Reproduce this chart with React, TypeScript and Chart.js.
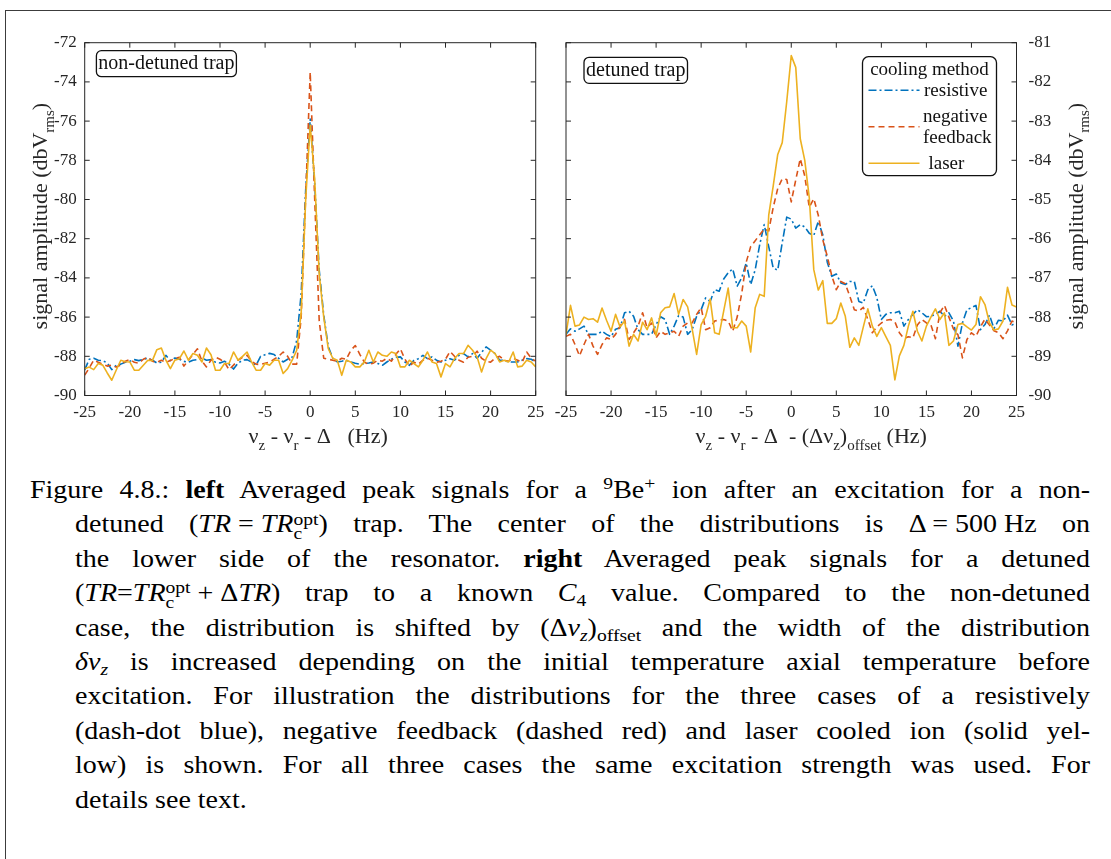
import { useEffect, useRef } from "react";
import { Chart, registerables } from "chart.js";

Chart.register(...registerables);

const SERIF = "'Liberation Serif', 'Times New Roman', serif";
const INK = "#262626";

// sweep grid shared by every trace: -25 Hz .. +25 Hz in 0.5 Hz steps
const FREQ_START = -25;
const FREQ_STEP = 0.5;

const X_MIN = -25;
const X_MAX = 25;
const X_STEP = 5;
const LEFT_Y = { min: -90, max: -72, step: 2 };
const RIGHT_Y = { min: -90, max: -81, step: 1 };

const SERIES_NAMES = ["resistive", "negative feedback", "laser"];
const SERIES_COLORS = ["#0072BD", "#D95319", "#EDB120"];
const SERIES_DASH = [[8, 3, 2, 3], [6, 4], []];

// non-detuned trap (dbVrms)
const LEFT_RESISTIVE = [
  -88.7, -88.15, -88.1, -88.2, -88.22, -88.34, -88.68, -88.45, -88.4, -88.3,
  -88.25, -88.17, -88.22, -88.15, -88.09, -88.2, -88.34, -88.3, -87.95, -88.22,
  -88.09, -88.15, -88.26, -88.3, -88.2, -88.17, -88.09, -88.2, -88.17, -88.3,
  -88.34, -88.25, -88.4, -88.65, -88.35, -88.2, -88.17, -88.3, -88.45, -88.0,
  -87.92, -87.85, -87.91, -88.1, -88.29, -88.15, -88.05, -87.2, -84.8, -79.5,
  -75.9, -79.2, -83.6, -85.9, -87.5, -88.1, -88.29, -88.25, -88.2, -88.29,
  -88.35, -88.4, -88.37, -88.34, -88.29, -88.37, -88.46, -88.29, -88.15, -88.05,
  -88.03, -88.29, -88.46, -88.2, -88.12, -87.95, -88.12, -88.03, -88.2, -88.29,
  -88.2, -88.12, -88.2, -87.95, -87.86, -88.03, -87.86, -88.1, -87.8, -87.52,
  -87.69, -87.86, -88.2, -88.2, -88.29, -88.29, -88.29, -88.2, -88.12, -88.15, -88.29,
];
const LEFT_FEEDBACK = [
  -88.96, -88.6, -88.2, -88.3, -88.4, -88.5, -88.45, -88.55, -88.45, -88.25,
  -88.17, -88.3, -88.35, -88.15, -88.05, -88.25, -88.3, -88.2, -88.3, -88.22,
  -88.1, -88.05, -88.5, -88.2, -87.9, -87.62, -88.25, -88.54, -88.2, -88.05,
  -88.15, -88.3, -88.68, -88.45, -88.2, -88.05, -87.95, -88.26, -88.4, -88.42,
  -88.35, -88.3, -88.15, -88.0, -87.78, -88.0, -88.4, -88.4, -86.0, -79.8,
  -73.5, -80.0, -86.2, -88.1, -88.15, -88.2, -88.25, -88.1, -88.15, -87.7,
  -87.45, -87.9, -88.3, -88.4, -88.35, -88.2, -88.25, -88.1, -88.25, -87.9,
  -87.62, -88.15, -88.5, -88.3, -88.4, -88.2, -88.1, -88.2, -88.3, -88.25,
  -88.15, -87.75, -88.0, -88.2, -88.3, -88.05, -88.0, -87.74, -88.1, -88.25,
  -88.3, -88.1, -88.0, -88.2, -88.25, -88.1, -88.2, -88.3, -87.78, -88.1, -88.25,
];
const LEFT_LASER = [
  -88.63, -88.55, -88.68, -88.37, -88.45, -88.85, -89.22, -88.7, -88.2, -88.28,
  -88.29, -88.71, -88.71, -88.46, -88.2, -88.22, -87.66, -87.58, -88.2, -88.63,
  -88.2, -88.12, -87.73, -88.2, -87.86, -87.95, -88.29, -87.58, -87.92, -88.71,
  -88.71, -88.37, -88.37, -87.78, -88.2, -88.0, -87.78, -88.29, -88.71, -88.71,
  -88.37, -88.45, -88.2, -88.2, -88.88, -88.63, -88.2, -87.7, -85.8, -80.0,
  -76.2, -79.0, -83.8, -86.0, -87.6, -88.1, -88.2, -88.97, -88.2, -88.29,
  -88.54, -88.54, -88.29, -87.69, -88.29, -87.78, -87.95, -88.0, -87.78, -87.86,
  -88.54, -88.54, -88.2, -88.37, -88.54, -88.2, -87.78, -88.29, -88.37, -89.05,
  -88.37, -88.54, -88.12, -87.86, -87.86, -87.44, -87.69, -88.03, -88.8, -88.12,
  -87.69, -87.86, -88.29, -88.2, -88.29, -87.78, -88.54, -88.5, -88.2, -88.29, -88.54,
];

// detuned trap (dbVrms), frequency relative to the offset
const RIGHT_RESISTIVE = [
  -88.44, -88.3, -88.36, -88.3, -88.23, -88.44, -88.44, -88.44, -88.36, -88.44,
  -88.5, -88.31, -88.27, -87.89, -87.85, -87.98, -88.32, -88.44, -88.44, -88.44,
  -88.19, -87.99, -88.06, -88.44, -88.23, -87.96, -88.0, -88.44, -88.32, -87.98,
  -87.81, -87.51, -87.6, -87.3, -87.34, -87.03, -86.87, -86.77, -87.21, -87.0,
  -86.62, -87.17, -86.79, -86.15, -85.64, -86.2, -86.75, -86.8, -86.1, -85.45,
  -85.5, -85.73, -85.64, -85.7, -85.86, -85.92, -85.56, -85.9, -86.6, -86.96,
  -86.9, -87.13, -87.17, -87.09, -87.09, -87.6, -87.64, -87.3, -87.2, -87.5,
  -88.06, -87.93, -87.89, -87.89, -87.85, -88.23, -88.06, -87.93, -87.81, -87.89,
  -87.99, -87.98, -87.93, -87.85, -87.98, -87.89, -88.1, -88.74, -88.15, -87.81,
  -87.76, -87.7, -88.32, -88.19, -87.95, -88.29, -88.08, -88.1, -87.95, -88.2, -88.15,
];
const RIGHT_FEEDBACK = [
  -88.49, -88.44, -88.7, -88.99, -88.7, -88.44, -88.74, -88.95, -88.7, -88.53,
  -88.57, -88.44, -88.23, -88.06, -88.57, -88.4, -88.23, -87.89, -88.27, -88.15,
  -88.53, -88.36, -88.44, -88.4, -88.36, -88.49, -88.23, -88.15, -88.15, -87.93,
  -87.76, -88.32, -88.27, -88.1, -88.08, -88.06, -88.1, -88.36, -88.0, -87.4,
  -86.6, -86.2, -86.05, -85.9, -85.75, -85.8, -85.2, -84.72, -84.47, -84.49,
  -85.06, -84.5, -83.96, -84.4, -85.2, -84.98, -85.4, -86.03, -86.45, -86.95,
  -87.3, -87.09, -87.15, -87.47, -87.81, -87.85, -87.75, -88.06, -88.4, -88.25,
  -88.15, -88.08, -88.06, -88.12, -88.4, -88.55, -88.5, -88.53, -88.2, -88.06,
  -88.15, -88.2, -88.55, -87.89, -87.7, -88.0, -88.3, -88.45, -89.04, -88.57,
  -88.4, -88.49, -88.25, -88.05, -88.2, -88.35, -88.4, -88.55, -88.35, -88.1, -88.15,
];
const RIGHT_LASER = [
  -88.45, -87.7, -88.23, -88.2, -88.0, -88.06, -88.04, -88.13, -87.77, -88.08,
  -88.36, -87.93, -88.25, -88.1, -88.74, -88.44, -88.61, -88.13, -88.32, -88.02,
  -88.47, -87.89, -87.76, -87.74, -87.4, -87.93, -87.55, -87.74, -88.3, -88.95,
  -88.19, -87.98, -87.54, -88.4, -88.44, -87.85, -87.26, -88.27, -88.27, -88.1,
  -88.23, -88.89, -87.76, -87.42, -87.47, -85.4, -84.65, -83.85, -83.55, -82.5,
  -81.33, -81.63, -83.45, -84.0, -84.95, -86.79, -87.31, -87.07, -88.16, -88.16,
  -88.04, -87.64, -87.98, -88.77, -88.53, -88.72, -88.25, -87.79, -88.23, -88.49,
  -88.27, -88.5, -88.72, -89.6, -88.99, -88.72, -88.23, -87.85, -88.36, -88.61,
  -88.23, -88.0, -87.79, -88.06, -87.89, -88.72, -88.61, -88.19, -88.16, -88.25,
  -88.33, -88.19, -87.48, -87.68, -88.15, -88.33, -88.3, -88.1, -87.24, -87.69, -87.74,
];

type Seg = { t: string; sub?: boolean };

const toPoints = (vals: number[]) =>
  vals.map((y, i) => ({ x: FREQ_START + i * FREQ_STEP, y }));

function makeDatasets(series: number[][]) {
  return series.map((vals, i) => ({
    label: SERIES_NAMES[i],
    data: toPoints(vals),
    borderColor: SERIES_COLORS[i],
    backgroundColor: SERIES_COLORS[i],
    borderDash: SERIES_DASH[i],
    borderWidth: 1.6,
    borderJoinStyle: "round" as const,
    pointRadius: 0,
    tension: 0,
    fill: false,
    order: 3 - i,
  }));
}

function drawRich(
  ctx: CanvasRenderingContext2D,
  segs: Seg[],
  x: number,
  y: number,
  size: number,
  align: "left" | "center"
) {
  const main = `${size}px ${SERIF}`;
  const small = `${Math.round(size * 0.68)}px ${SERIF}`;
  let w = 0;
  for (const s of segs) {
    ctx.font = s.sub ? small : main;
    w += ctx.measureText(s.t).width;
  }
  let cx = align === "center" ? x - w / 2 : x;
  ctx.textAlign = "left";
  ctx.textBaseline = "alphabetic";
  for (const s of segs) {
    ctx.font = s.sub ? small : main;
    ctx.fillText(s.t, cx, s.sub ? y + size * 0.3 : y);
    cx += ctx.measureText(s.t).width;
  }
}

function roundBox(ctx: CanvasRenderingContext2D, x: number, y: number, w: number, h: number, r: number) {
  ctx.beginPath();
  ctx.roundRect(x, y, w, h, r);
  ctx.fillStyle = "#ffffff";
  ctx.fill();
  ctx.lineWidth = 1.3;
  ctx.strokeStyle = "#111111";
  ctx.stroke();
}

// box around the axes with inward tick marks on all four sides
const framePlugin = {
  id: "frame",
  afterDatasetsDraw(chart: any) {
    const { ctx, chartArea: a } = chart;
    const xs = chart.scales.x;
    const ys = chart.scales.y;
    const tl = 5;
    ctx.save();
    ctx.strokeStyle = INK;
    ctx.lineWidth = 1;
    ctx.beginPath();
    xs.ticks.forEach((t: any) => {
      const p = xs.getPixelForValue(t.value);
      ctx.moveTo(p, a.bottom);
      ctx.lineTo(p, a.bottom - tl);
      ctx.moveTo(p, a.top);
      ctx.lineTo(p, a.top + tl);
    });
    ys.ticks.forEach((t: any) => {
      const p = ys.getPixelForValue(t.value);
      ctx.moveTo(a.left, p);
      ctx.lineTo(a.left + tl, p);
      ctx.moveTo(a.right, p);
      ctx.lineTo(a.right - tl, p);
    });
    ctx.stroke();
    ctx.strokeRect(a.left, a.top, a.right - a.left, a.bottom - a.top);
    ctx.restore();
  },
};

const Y_TITLE: Seg[] = [{ t: "signal amplitude (dbV" }, { t: "rms", sub: true }, { t: ")" }];

type PanelDecor = {
  tag: string;
  tagDx: number;
  tagDy: number;
  tagW: number;
  xTitle: Seg[];
  xTitleShift: number;
  yTitleX: (a: any) => number;
  legend: boolean;
};

function makeDecorPlugin(d: PanelDecor) {
  return {
    id: "decor",
    afterDraw(chart: any) {
      const { ctx, chartArea: a } = chart;
      ctx.save();
      ctx.fillStyle = "#111111";

      // panel tag
      const bx = a.left + d.tagDx;
      const by = a.top + d.tagDy;
      roundBox(ctx, bx, by, d.tagW, 26, 5);
      ctx.fillStyle = "#111111";
      ctx.font = `20px ${SERIF}`;
      ctx.textAlign = "center";
      ctx.textBaseline = "middle";
      ctx.fillText(d.tag, bx + d.tagW / 2, by + 13.5);

      // axis titles
      ctx.fillStyle = INK;
      drawRich(ctx, d.xTitle, (a.left + a.right) / 2 + d.xTitleShift, 443, 22, "center");
      ctx.save();
      ctx.translate(d.yTitleX(a), (a.top + a.bottom) / 2 - 3);
      ctx.rotate(-Math.PI / 2);
      drawRich(ctx, Y_TITLE, 0, 0, 22, "center");
      ctx.restore();

      if (d.legend) {
        const lx = a.right - 154;
        const ly = a.top + 14;
        const lw = 134;
        const lh = 119;
        roundBox(ctx, lx, ly, lw, lh, 6);
        ctx.fillStyle = "#111111";
        ctx.font = `19px ${SERIF}`;
        ctx.textBaseline = "alphabetic";
        ctx.textAlign = "center";
        ctx.fillText("cooling method", lx + lw / 2, ly + 18);
        ctx.textAlign = "left";
        const rows = [
          { ds: 0, lineY: 33.5, text: [{ s: "resistive", y: 39.5 }], tx: 61.5 },
          { ds: 1, lineY: 70, text: [{ s: "negative", y: 65.5 }, { s: "feedback", y: 86.5 }], tx: 60.5 },
          { ds: 2, lineY: 106.5, text: [{ s: "laser", y: 112.5 }], tx: 66 },
        ];
        for (const r of rows) {
          const ds = chart.data.datasets[r.ds];
          ctx.save();
          ctx.strokeStyle = ds.borderColor;
          ctx.lineWidth = ds.borderWidth;
          ctx.setLineDash(ds.borderDash || []);
          ctx.beginPath();
          ctx.moveTo(lx + 6, ly + r.lineY);
          ctx.lineTo(lx + 57, ly + r.lineY);
          ctx.stroke();
          ctx.restore();
          for (const t of r.text) ctx.fillText(t.s, lx + r.tx, ly + t.y);
        }
      }
      ctx.restore();
    },
  };
}

const tickFont = { family: SERIF, size: 17 };

function makeConfig(side: "left" | "right"): any {
  const left = side === "left";
  const yr = left ? LEFT_Y : RIGHT_Y;
  const series = left
    ? [LEFT_RESISTIVE, LEFT_FEEDBACK, LEFT_LASER]
    : [RIGHT_RESISTIVE, RIGHT_FEEDBACK, RIGHT_LASER];
  const decor: PanelDecor = left
    ? {
        tag: "non-detuned trap",
        tagDx: 11.7,
        tagDy: 8,
        tagW: 140,
        xTitle: [{ t: "ν" }, { t: "z", sub: true }, { t: " - ν" }, { t: "r", sub: true }, { t: " - Δ   (Hz)" }],
        xTitleShift: 8,
        yTitleX: (a: any) => a.left - 37.5,
        legend: false,
      }
    : {
        tag: "detuned trap",
        tagDx: 18,
        tagDy: 14.6,
        tagW: 103.5,
        xTitle: [
          { t: "ν" },
          { t: "z", sub: true },
          { t: " - ν" },
          { t: "r", sub: true },
          { t: " - Δ  - (Δν" },
          { t: "z", sub: true },
          { t: ")" },
          { t: "offset", sub: true },
          { t: " (Hz)" },
        ],
        xTitleShift: 20,
        yTitleX: (a: any) => a.right + 66,
        legend: true,
      };

  return {
    type: "line",
    data: { datasets: makeDatasets(series) },
    options: {
      responsive: false,
      animation: false,
      events: [],
      layout: {
        padding: left
          ? { left: 0, right: 1111 - 535.7, top: 42.7, bottom: 0 }
          : { left: 566, right: 0, top: 42.7, bottom: 0 },
      },
      plugins: {
        legend: { display: false },
        tooltip: { enabled: false },
        title: { display: false },
      },
      scales: {
        x: {
          type: "linear",
          min: X_MIN,
          max: X_MAX,
          grid: { display: false, drawTicks: false },
          border: { display: false },
          ticks: { stepSize: X_STEP, font: tickFont, color: INK, padding: 7, maxRotation: 0 },
          afterFit: (s: any) => {
            s.height = 460 - 395.5;
          },
        },
        y: {
          type: "linear",
          position: left ? "left" : "right",
          min: yr.min,
          max: yr.max,
          grid: { display: false, drawTicks: false },
          border: { display: false },
          ticks: { stepSize: yr.step, font: tickFont, color: INK, padding: left ? 8 : 12 },
          afterFit: (s: any) => {
            s.width = left ? 84.7 : 1111 - 1016.5;
          },
        },
      },
    },
    plugins: [framePlugin, makeDecorPlugin(decor)],
  };
}

const It = ({ children }: any) => <i>{children}</i>;
const Sup = ({ children }: any) => (
  <span style={{ fontSize: "0.7em", position: "relative", top: "-0.5em" }}>{children}</span>
);
const Sub = ({ children }: any) => (
  <span style={{ fontSize: "0.7em", position: "relative", top: "0.3em" }}>{children}</span>
);
const Grp = ({ children }: any) => (
  <span style={{ display: "inline-block", whiteSpace: "nowrap" }}>{children}</span>
);
const OptC = () => (
  <span
    style={{
      display: "inline-block",
      fontSize: "0.7em",
      lineHeight: "0.85em",
      verticalAlign: "-0.4em",
      textAlign: "left",
    }}
  >
    opt
    <br />c
  </span>
);

const CAPTION_LINES = [
  <>
    Figure 4.8.: <b>left</b> Averaged peak signals for a{" "}
    <Grp>
      <Sup>9</Sup>Be<Sup>+</Sup>
    </Grp>{" "}
    ion after an excitation for a non-
  </>,
  <>
    detuned{" "}
    <Grp>
      (<It>TR</It> = <It>TR</It>
      <OptC />)
    </Grp>{" "}
    trap. The center of the distributions is <Grp>Δ = 500 Hz</Grp> on
  </>,
  <>
    the lower side of the resonator. <b>right</b> Averaged peak signals for a detuned
  </>,
  <>
    <Grp>
      (<It>TR</It>=<It>TR</It>
      <OptC /> + Δ<It>TR</It>)
    </Grp>{" "}
    trap to a known{" "}
    <Grp>
      <It>C</It>
      <Sub>4</Sub>
    </Grp>{" "}
    value. Compared to the non-detuned
  </>,
  <>
    case, the distribution is shifted by{" "}
    <Grp>
      (Δ<It>ν</It>
      <Sub>
        <It>z</It>
      </Sub>
      )<Sub>offset</Sub>
    </Grp>{" "}
    and the width of the distribution
  </>,
  <>
    <Grp>
      <It>δν</It>
      <Sub>
        <It>z</It>
      </Sub>
    </Grp>{" "}
    is increased depending on the initial temperature axial temperature before
  </>,
  <>excitation. For illustration the distributions for the three cases of a resistively</>,
  <>(dash-dot blue), negative feedback (dashed red) and laser cooled ion (solid yel-</>,
  <>low) is shown. For all three cases the same excitation strength was used. For</>,
  <>details see text.</>,
];

// caption glyphs are widened a little so the justified lines keep even word gaps
const CAPTION_STRETCH = 1.12;
const CAPTION_SIZE = 25;

export default function App() {
  const leftRef = useRef<HTMLCanvasElement>(null);
  const rightRef = useRef<HTMLCanvasElement>(null);

  useEffect(() => {
    const a = new Chart(leftRef.current as HTMLCanvasElement, makeConfig("left"));
    const b = new Chart(rightRef.current as HTMLCanvasElement, makeConfig("right"));
    return () => {
      a.destroy();
      b.destroy();
    };
  }, []);

  return (
    <div
      style={{
        position: "absolute",
        left: 0,
        top: 0,
        width: 1111,
        height: 859,
        overflow: "hidden",
        background: "#ffffff",
      }}
    >
      <div
        style={{
          position: "absolute",
          left: 5,
          top: 10,
          width: 1200,
          height: 900,
          borderTop: "1.5px solid #3c3c3c",
          borderLeft: "1.5px solid #3c3c3c",
        }}
      />
      <canvas ref={leftRef} width={1111} height={460} style={{ position: "absolute", left: 0, top: 0 }} />
      <canvas ref={rightRef} width={1111} height={460} style={{ position: "absolute", left: 0, top: 0 }} />
      {CAPTION_LINES.map((line, i) => {
        const last = i === CAPTION_LINES.length - 1;
        const fullWidth = i === 0 ? 1060 : 1015;
        return (
          <div
            key={i}
            style={{
              position: "absolute",
              left: i === 0 ? 30 : 75,
              width: fullWidth / CAPTION_STRETCH,
              top: 473 + i * 34.4,
              height: 34,
              lineHeight: "34px",
              fontFamily: SERIF,
              fontSize: CAPTION_SIZE,
              color: "#000000",
              textAlign: last ? "left" : "justify",
              textAlignLast: last ? "left" : "justify",
              whiteSpace: "nowrap",
              transform: `scaleX(${CAPTION_STRETCH})`,
              transformOrigin: "left top",
            }}
          >
            {line}
          </div>
        );
      })}
    </div>
  );
}
